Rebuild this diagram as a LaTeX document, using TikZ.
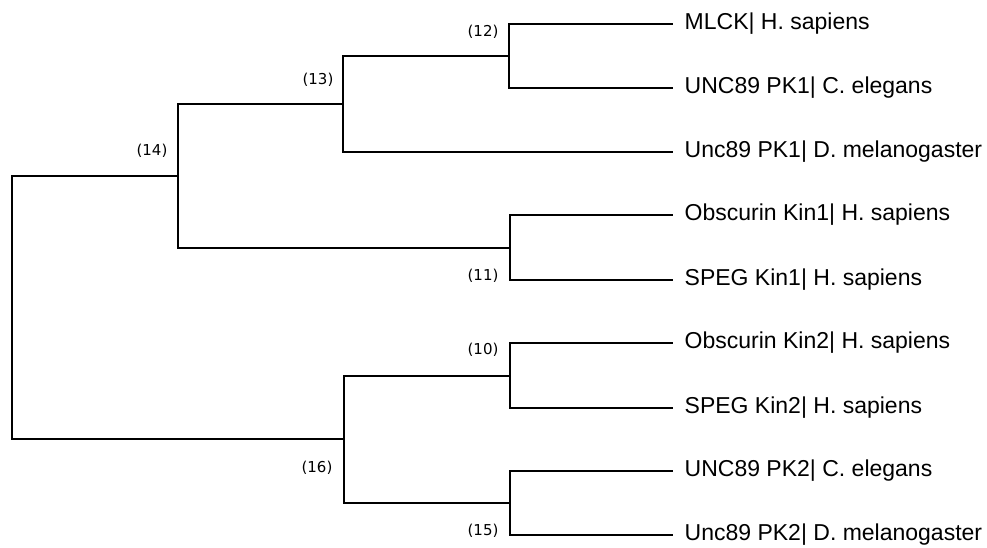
\documentclass[tikz,border=0pt]{standalone}
\usepackage{fontspec}
\setmainfont{Liberation Sans}
\newfontfamily\numfont{DejaVu Sans}
\usepackage{tikz}
\usetikzlibrary{positioning}

\begin{document}
\begin{tikzpicture}[x=1pt,y=-1pt,line width=1.4pt,leaf node/.style={anchor=west,inner xsep=11pt,inner ysep=0pt,font=\fontsize{23}{27}\selectfont},clade label/.style={font=\numfont\fontsize{15}{18}\selectfont,inner sep=0pt}]
		\useasboundingbox (0,0) rectangle (987,547);
		% leaves
		\node[leaf node] (mlck) at (673,24) {MLCK| H. sapiens};
		\node[leaf node] (unc1c) at (673,88) {UNC89 PK1| C. elegans};
		\node[leaf node] (unc1d) at (673,152) {Unc89 PK1| D. melanogaster};
		\node[leaf node] (obs1) at (673,215) {Obscurin Kin1| H. sapiens};
		\node[leaf node] (speg1) at (673,280) {SPEG Kin1| H. sapiens};
		\node[leaf node] (obs2) at (673,343) {Obscurin Kin2| H. sapiens};
		\node[leaf node] (speg2) at (673,408) {SPEG Kin2| H. sapiens};
		\node[leaf node] (unc2c) at (673,471) {UNC89 PK2| C. elegans};
		\node[leaf node] (unc2d) at (673,535) {Unc89 PK2| D. melanogaster};
		% inner nodes
		\coordinate (n12) at (509,56);
		\coordinate (n13) at (343,104);
		\coordinate (n11) at (510,248);
		\coordinate (n14) at (178,176);
		\coordinate (n10) at (510,376);
		\coordinate (n15) at (510,503);
		\coordinate (n16) at (344,439);
		\coordinate (root) at (12,307);
		% branches
		\draw (n12) |- (mlck.west) (n12) |- (unc1c.west);
		\draw (n13) |- (n12) (n13) |- (unc1d.west);
		\draw (n11) |- (obs1.west) (n11) |- (speg1.west);
		\draw (n14) |- (n13) (n14) |- (n11);
		\draw (n10) |- (obs2.west) (n10) |- (speg2.west);
		\draw (n15) |- (unc2c.west) (n15) |- (unc2d.west);
		\draw (n16) |- (n10) (n16) |- (n15);
		\draw (root) |- (n14) (root) |- (n16);
		% labels
		\node[clade label] (l12) at (483,32) {(12)};
		\node[clade label] (l13) at (318,80) {(13)};
		\node[clade label] (l14) at (152,151) {(14)};
		\node[clade label] (l11) at (483,276) {(11)};
		\node[clade label] (l10) at (483,350) {(10)};
		\node[clade label] (l16) at (317,468) {(16)};
		\node[clade label] (l15) at (483,531) {(15)};
		\end{tikzpicture}
\end{document}
